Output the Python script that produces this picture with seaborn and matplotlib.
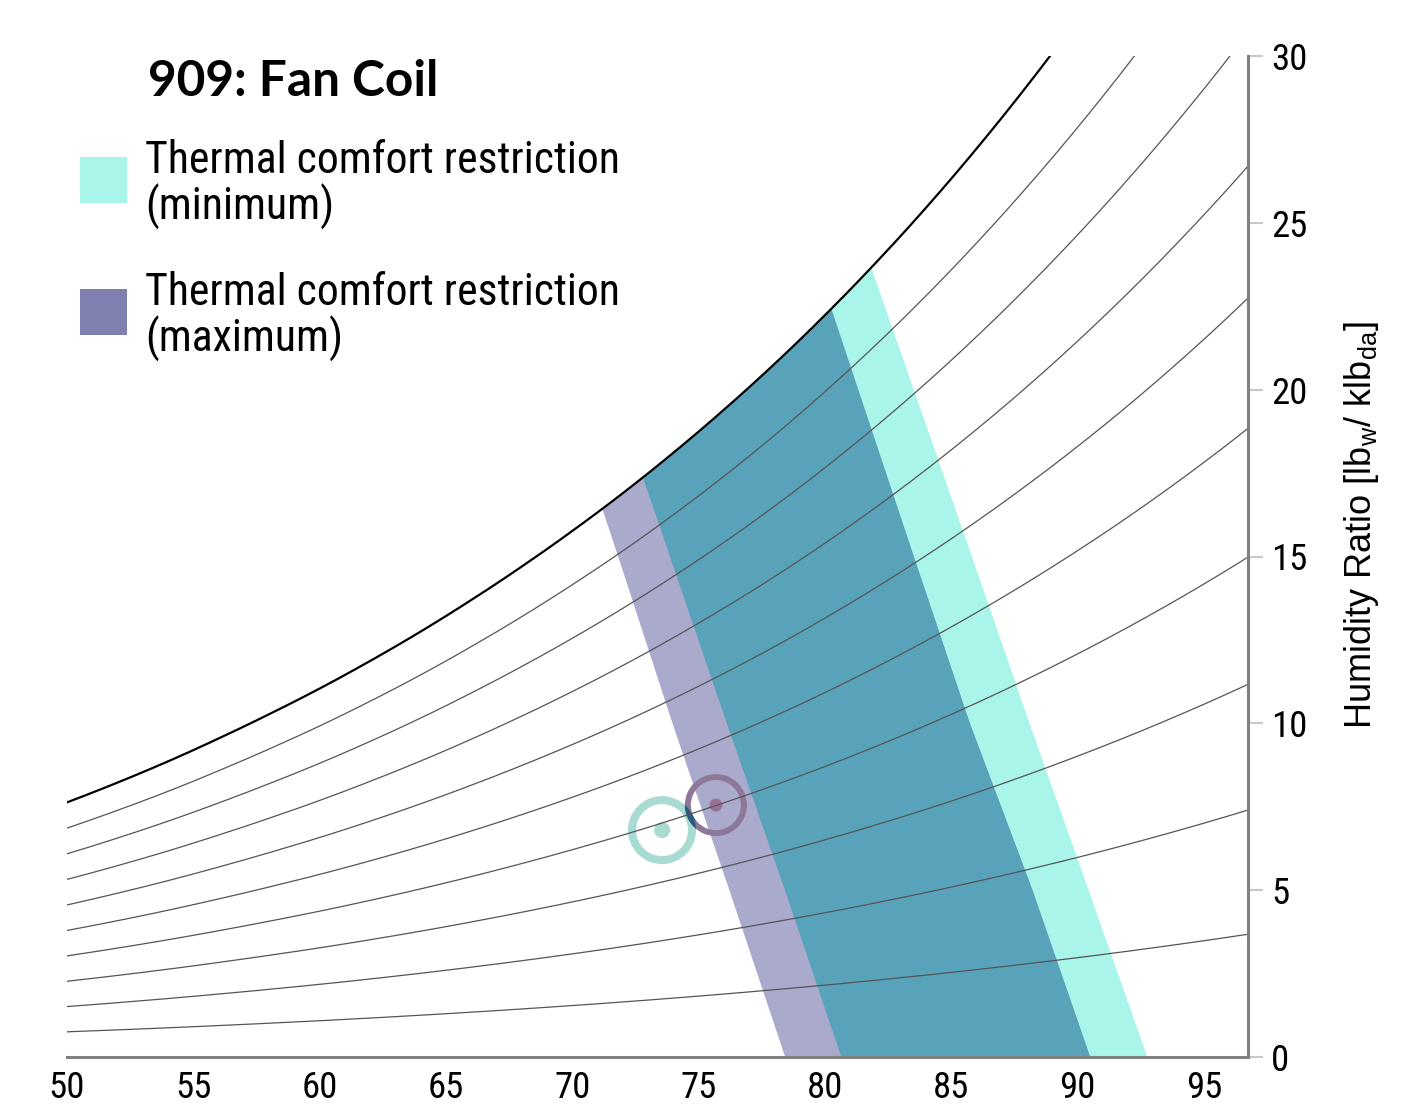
import os
import numpy as np
import pandas as pd
import matplotlib
matplotlib.use("Agg")
import matplotlib.pyplot as plt
import matplotlib.transforms as mtransforms
from matplotlib import font_manager
from matplotlib.font_manager import FontProperties
from matplotlib.textpath import TextPath
from matplotlib.patches import Annulus, Circle, Rectangle
import seaborn as sns

# Saturation humidity ratio at sea level, lb_w / klb_da, by dry-bulb temperature (°F)
temps_f = [50, 52, 54, 56, 58, 60, 62, 64, 66, 68, 70, 72, 74,
           76, 78, 80, 82, 84, 86, 88, 90, 92, 94, 96, 98]
w_sat = [7.631, 8.225, 8.860, 9.547, 10.274, 11.043, 11.871, 12.752, 13.697,
         14.700, 15.767, 16.900, 18.111, 19.400, 20.772, 22.236, 23.795,
         25.456, 27.226, 29.110, 31.113, 33.244, 35.513, 37.925, 40.500]
rh_levels = [10, 20, 30, 40, 50, 60, 70, 80, 90, 100]
P_ATM = 14.696  # psia

# Comfort-zone boundaries: dry-bulb temperature at given humidity ratios
boundary_w = [0, 5, 10, 15, 20, 25]
min_left_t = [80.63, 78.40, 76.10, 73.85, 71.60, 69.40]
min_right_t = [92.74, 90.42, 88.08, 85.80, 83.50, 81.20]
max_left_t = [78.41, 76.20, 73.95, 71.80, 69.60, 67.40]
max_right_t = [90.48, 88.20, 85.72, 83.50, 81.30, 79.10]

# Operating points (dry-bulb °F, humidity ratio)
point_min = (73.55, 6.80)
point_max = (75.68, 7.55)

title = "909: Fan Coil"
legend_labels = [("Thermal comfort restriction", "(minimum)"),
                 ("Thermal comfort restriction", "(maximum)")]
x_ticks = [50, 55, 60, 65, 70, 75, 80, 85, 90, 95]
y_ticks = [0, 5, 10, 15, 20, 25, 30]
X_MAX = 96.74

COL_MIN = "#aaf5ea"
COL_MAX = "#aaaacc"
COL_MAX_KEY = "#8080b0"
COL_BOTH = "#58a3b9"

sns.set_theme(style="white")
plt.rcParams["font.family"] = ["Liberation Sans", "DejaVu Sans"]
plt.rcParams["text.color"] = "black"

# ---- typeface choice: a narrow sans face, sized by its text extents ----
FAMILY_FILES = ("liberationsans", "dejavusans", "notosans", "roboto",
                "opensans", "lato")
BAD = ("extralight", "light", "thin", "medium", "semibold", "extrabold",
       "black", "italic", "oblique", "mono", "display", "demi", "heavy")


def font_files(bold):
    out = set()
    for f in font_manager.fontManager.ttflist:
        base = os.path.basename(f.fname).lower().replace("_", "").replace(" ", "")
        stem = base.split("-")[0].split(".")[0]
        if not any(stem.startswith(p) for p in FAMILY_FILES):
            continue
        if stem.startswith("notosans") and stem not in ("notosans", "notosanscondensed",
                                                          "notosanssemicondensed",
                                                          "notosansextracondensed"):
            continue
        if any(b in base for b in BAD):
            continue
        if bold != ("bold" in base):
            continue
        out.add(f.fname)
    return sorted(out)


def extents(path, s):
    return TextPath((0, 0), s, prop=FontProperties(fname=path, size=100)).get_extents()


def pick(bold, sample, width_px, cap_px):
    target = width_px / cap_px
    best, score = None, 1e9
    for path in font_files(bold):
        try:
            w = extents(path, sample).width
            h = extents(path, "T").height
        except Exception:
            continue
        if w <= 0 or h <= 0:
            continue
        sc = abs(np.log((w / h) / target))
        if sc < score:
            best, score = path, sc
    return best


def sized(path, sample, width_px, cap_px, fallback_pt, bold=False):
    if path is None:
        return FontProperties(family=["Liberation Sans", "DejaVu Sans"], size=fallback_pt,
                              weight="bold" if bold else "normal")
    w = extents(path, sample).width
    h = extents(path, "T").height
    pt_w = width_px * 0.72 * 100 / w
    pt_h = cap_px * 0.72 * 100 / h
    return FontProperties(fname=path, size=float(np.exp(0.7 * np.log(pt_w) + 0.3 * np.log(pt_h))))


reg_path = pick(False, "Thermal comfort restriction", 459, 33)
bold_path = pick(True, title, 282, 37)
legend_fp = sized(reg_path, "Thermal comfort restriction", 459, 33, 28)
title_fp = sized(bold_path, title, 282, 37, 32, bold=True)
tick_fp = sized(reg_path, "30", 32, 27, 22)

fig = plt.figure(figsize=(14.18, 11.07), dpi=100)
ax = fig.add_axes([67 / 1418, 50 / 1107, 1181 / 1418, 1001 / 1107])

# Relative-humidity curves
t_fine = np.linspace(50, 98, 961)
w_sat_fine = np.exp(np.interp(t_fine, temps_f, np.log(w_sat)))
p_ws = P_ATM * w_sat_fine / (621.945 + w_sat_fine)
frames = []
for rh in rh_levels:
    pw = rh / 100 * p_ws
    frames.append(pd.DataFrame({"t": t_fine,
                                "w": 621.945 * pw / (P_ATM - pw),
                                "rh": rh}))
curves = pd.concat(frames, ignore_index=True)

# Comfort zones, bounded on the left by the saturation curve
w_grid = np.linspace(0, 30, 1201)
t_dew = np.interp(w_grid, w_sat_fine, t_fine)


def edges(left_t, right_t):
    left = np.maximum(np.interp(w_grid, boundary_w, left_t), t_dew)
    right = np.interp(w_grid, boundary_w, right_t)
    return left, right


for lt, rt, col in [(min_left_t, min_right_t, COL_MIN),
                    (max_left_t, max_right_t, COL_MAX),
                    (min_left_t, max_right_t, COL_BOTH)]:
    lo, hi = edges(lt, rt)
    ax.fill_betweenx(w_grid, lo, hi, where=lo <= hi, interpolate=True,
                     color=col, linewidth=0, zorder=1)

ax.set_xlim(50, X_MAX)
ax.set_ylim(0, 30)


# Operating-point rings (sized in inches so they stay round)
def ring(pt, r_out, width, color, z):
    tr = fig.dpi_scale_trans + mtransforms.ScaledTranslation(pt[0], pt[1], ax.transData)
    a = Annulus((0, 0), r_out, width, transform=tr, facecolor=color,
                edgecolor="none", zorder=z)
    ax.add_artist(a)
    return a


def dot(pt, r, color, z):
    tr = fig.dpi_scale_trans + mtransforms.ScaledTranslation(pt[0], pt[1], ax.transData)
    c = Circle((0, 0), r, transform=tr, facecolor=color, edgecolor="none", zorder=z)
    ax.add_artist(c)


ring_min = ring(point_min, 0.34, 0.08, "#a8dbd1", 2)
dot(point_min, 0.08, "#a8dbd1", 2)
ring(point_max, 0.31, 0.06, "#8e7898", 2.1)
dot(point_max, 0.065, "#9a7196", 2.1)
both = ring(point_max, 0.31, 0.06, "#275c7e", 2.2)
both.set_clip_path(ring_min)

sns.lineplot(data=curves[curves.rh < 100], x="t", y="w", units="rh",
             estimator=None, sort=False, color="#555555", linewidth=0.9,
             ax=ax, zorder=3)
sns.lineplot(data=curves[curves.rh == 100], x="t", y="w",
             estimator=None, sort=False, color="black", linewidth=1.6,
             ax=ax, zorder=3.1)

ax.set_xlim(50, X_MAX)
ax.set_ylim(0, 30)

# Axes styling
for side in ["top", "left"]:
    ax.spines[side].set_visible(False)
for side in ["bottom", "right"]:
    ax.spines[side].set_color("#808080")
    ax.spines[side].set_linewidth(2.2)
    ax.spines[side].set_zorder(4)

ax.yaxis.tick_right()
ax.set_xticks(x_ticks)
ax.set_yticks(y_ticks)
ax.set_xticks([50, X_MAX], minor=True)
ax.set_yticks([0, 30], minor=True)
ax.tick_params(axis="both", which="major", direction="out", length=10.5,
               width=1.5, color="#c8c8c8", labelcolor="black")
ax.tick_params(axis="x", which="both", length=9)
ax.tick_params(axis="x", which="major", pad=0)
ax.tick_params(axis="y", which="major", pad=6, right=True, left=False)
ax.tick_params(axis="both", which="minor", direction="out",
               width=2.2, color="#6e6e6e")
ax.tick_params(axis="y", which="minor", length=10.5, right=True, left=False)
for lab in ax.get_xticklabels() + ax.get_yticklabels():
    lab.set_fontproperties(tick_fp)
ax.set_xlabel("")
ax.set_ylabel("")

ax.text(1.0957, 0.5315,
        r"Humidity Ratio [lb$_\mathregular{w}$/ klb$_\mathregular{da}$]",
        transform=ax.transAxes, rotation=90, ha="center", va="center",
        rotation_mode="anchor", fontsize=26, family=["Liberation Sans", "DejaVu Sans"],
        color="black")

# Legend block
fig.text(148 / 1418, 1 - 96 / 1107, title, fontproperties=title_fp,
         ha="left", va="baseline", color="black")
for i, ((l1, l2), col) in enumerate(zip(legend_labels, [COL_MIN, COL_MAX_KEY])):
    off = 132 * i
    fig.patches.append(Rectangle((80 / 1418, 1 - (203 + off) / 1107), 47 / 1418, 46 / 1107,
                                 transform=fig.transFigure, facecolor=col,
                                 edgecolor="none"))
    fig.text(145 / 1418, 1 - (173 + off) / 1107, l1, fontproperties=legend_fp,
             ha="left", va="baseline", color="black")
    fig.text(145 / 1418, 1 - (220 + off) / 1107, l2, fontproperties=legend_fp,
             ha="left", va="baseline", color="black")

fig.savefig("out.png", dpi=100)
